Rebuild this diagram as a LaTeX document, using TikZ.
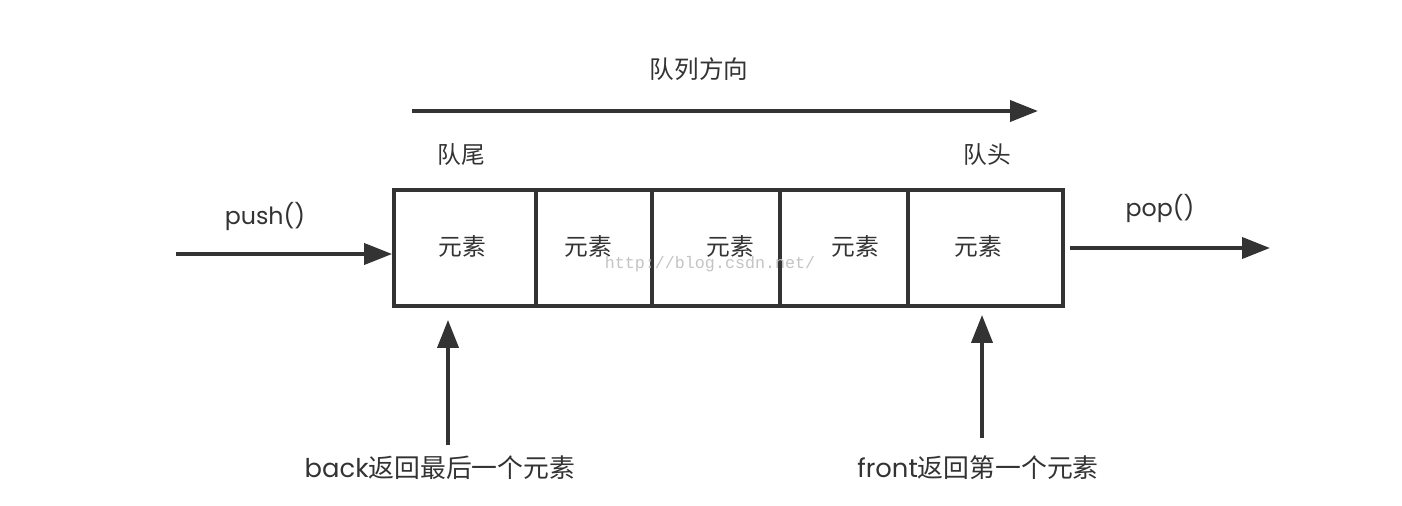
\documentclass[tikz,border=0pt]{standalone}
\usepackage{fontspec}
\setmainfont{Poppins}
\newfontfamily\cjk{Noto Sans CJK SC}
\newfontfamily\wmfont{Liberation Mono}
\usetikzlibrary{arrows.meta}
\definecolor{ink}{HTML}{333333}
\definecolor{wmgray}{HTML}{C4C4C4}
\begin{document}
\begin{tikzpicture}[x=0.02cm,y=-0.02cm,
  line/.style={draw=ink, line width=2.2pt},
  arr/.style={line, -{Triangle[length=0.56cm,width=0.42cm]}},
  cell/.style={line, rectangle, inner sep=0pt, minimum height=2.32cm},
  lbl/.style={text=ink, inner sep=0pt, font=\fontsize{13.5}{16}\selectfont},
  biglbl/.style={lbl, font=\fontsize{14.7}{17}\selectfont},
  wm/.style={text=wmgray, inner sep=0pt, font=\wmfont\fontsize{9.5}{11}\selectfont}
  ]
\useasboundingbox (0,0) rectangle (1402,506);
\fill[white] (0,0) rectangle (1402,506);

% queue direction
\node[lbl, font=\fontsize{14}{16}\selectfont] (title) at (699,69) {\cjk 队列方向};
\coordinate (dirS) at (412,111);
\coordinate (dirE) at (1038,111);
\draw[arr] (dirS) -- (dirE);
\node[lbl] (tail) at (461,155) {\cjk 队尾};
\node[lbl] (head) at (987,155) {\cjk 队头};

% cells
\node[cell, minimum width=2.84cm] (c1) at (465,248) {};
\node[cell, minimum width=2.32cm] (c2) at (594,248) {};
\node[cell, minimum width=2.56cm] (c3) at (716,248) {};
\node[cell, minimum width=2.56cm] (c4) at (844,248) {};
\node[cell, minimum width=3.10cm] (c5) at (985.5,248) {};

\node[lbl] (e1) at (462,246) {\cjk 元素};
\node[lbl] (e2) at (588,246) {\cjk 元素};
\node[lbl] (e3) at (730,246) {\cjk 元素};
\node[lbl] (e4) at (855,246) {\cjk 元素};
\node[lbl] (e5) at (978,246) {\cjk 元素};
\node[wm] (mark) at (710,264) {http://blog.csdn.net/};

% push / pop
\node[lbl] (push) at (265,217) {push()};
\coordinate (pushS) at (176,254);
\draw[arr] (pushS) -- (pushS -| c1.west);
\node[lbl] (pop) at (1160,209) {pop()};
\coordinate (popE) at (1270,248);
\draw[arr, shorten <=0.1cm] (popE -| c5.east) -- (popE);

% back / front
\coordinate (backS) at (448,445);
\draw[arr, shorten >=0.24cm] (backS) -- (backS |- c1.south);
\node[biglbl] (back) at (440,468) {back{\cjk 返回最后一个元素}};
\coordinate (frontS) at (982,438);
\draw[arr, shorten >=0.14cm] (frontS) -- (frontS |- c5.south);
\node[biglbl] (front) at (978,468) {front{\cjk 返回第一个元素}};
\end{tikzpicture}
\end{document}
